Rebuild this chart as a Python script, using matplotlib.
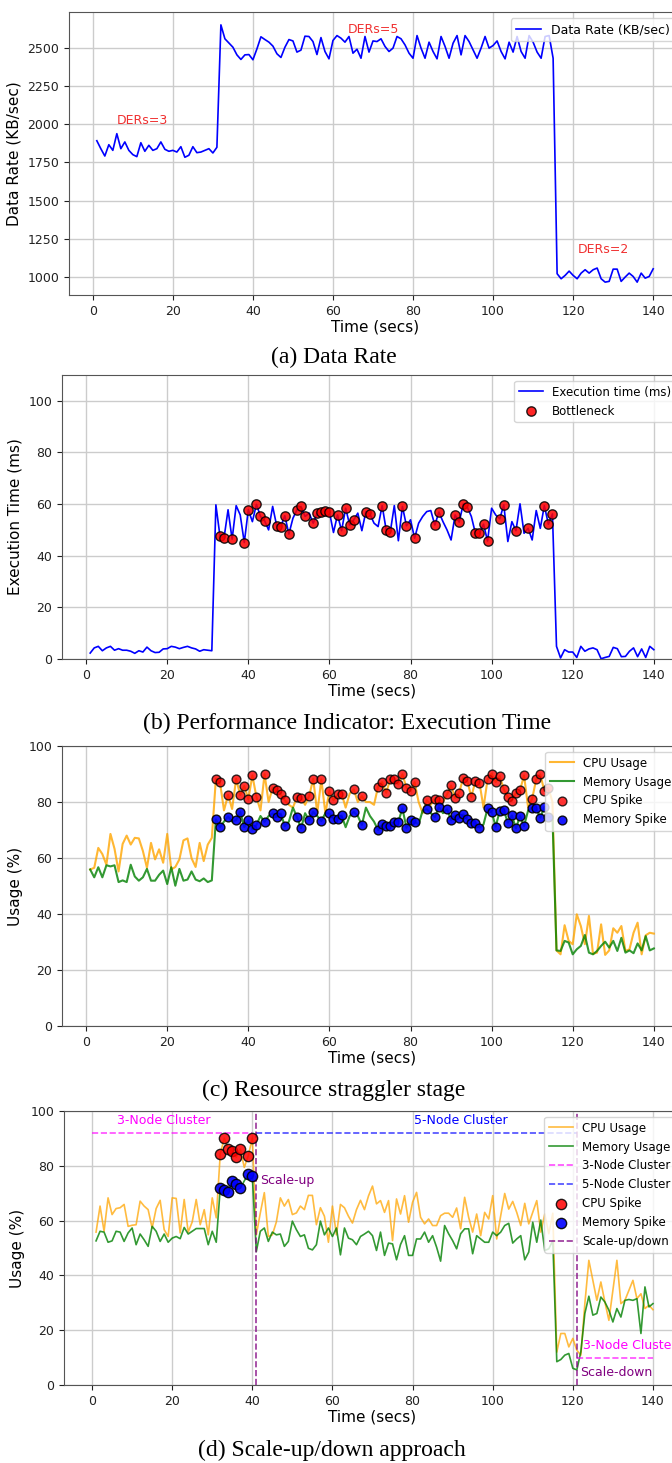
import numpy as np
import matplotlib
matplotlib.use("Agg")
import matplotlib.pyplot as plt

#%%
"""
### Data (read off the figure), time in secs from 1 to 140
"""
t = np.arange(1, 141)

data_rate = [1891, 1839, 1791, 1865, 1828, 1937, 1839, 1883, 1828, 1800,
             1787, 1878, 1822, 1861, 1828, 1839, 1883, 1835, 1822, 1828,
             1817, 1852, 1783, 1796, 1852, 1813, 1817, 1828, 1839, 1811,
             1848, 2648, 2557, 2530, 2502, 2452, 2422, 2452, 2454, 2420,
             2491, 2570, 2552, 2535, 2509, 2459, 2435, 2502, 2552, 2543,
             2470, 2483, 2574, 2572, 2539, 2454, 2565, 2474, 2426, 2546,
             2578, 2561, 2535, 2572, 2463, 2489, 2430, 2572, 2470, 2543,
             2539, 2557, 2507, 2474, 2496, 2572, 2557, 2517, 2463, 2430,
             2578, 2496, 2430, 2535, 2474, 2426, 2572, 2507, 2430, 2528,
             2578, 2452, 2578, 2539, 2485, 2430, 2496, 2572, 2496, 2513,
             2543, 2474, 2426, 2535, 2470, 2572, 2474, 2430, 2578, 2535,
             2470, 2430, 2572, 2578, 2430, 1022, 989, 1011, 1039, 1011,
             989, 1026, 1048, 1026, 1048, 1059, 989, 967, 972, 1052,
             1052, 972, 1000, 1026, 1004, 967, 1026, 993, 1004, 1054]

exec_time = [2.3, 4.3, 4.9, 3.2, 4.3, 4.9, 3.4, 4.0, 3.4, 3.4,
             3.0, 2.2, 3.2, 2.7, 4.6, 3.2, 2.5, 2.6, 3.9, 4.0,
             4.9, 4.6, 4.0, 4.5, 4.9, 4.3, 3.9, 3.0, 3.6, 3.4,
             3.2, 59.7, 47.7, 46.8, 57.8, 46.4, 59.4, 55.8, 45.1, 57.8,
             53.2, 59.9, 55.2, 53.6, 50.0, 59.1, 51.6, 51.3, 55.5, 48.4,
             54.5, 57.8, 59.1, 55.2, 56.5, 52.6, 56.5, 57.1, 57.5, 56.9,
             49.0, 55.8, 49.7, 58.4, 51.9, 53.9, 56.5, 49.7, 57.1, 56.1,
             52.6, 51.3, 59.4, 50.0, 49.1, 59.4, 45.8, 59.1, 51.6, 53.9,
             46.8, 52.6, 55.2, 57.1, 57.5, 51.9, 56.9, 53.2, 50.0, 46.1,
             55.8, 53.0, 60.0, 58.8, 55.2, 48.7, 48.7, 52.2, 45.7, 58.4,
             55.8, 54.3, 59.7, 45.5, 53.2, 49.7, 60.1, 48.7, 50.6, 46.1,
             57.5, 50.6, 59.4, 52.2, 56.2, 4.9, 0.4, 3.6, 2.7, 2.7,
             0.6, 4.9, 3.0, 3.9, 4.3, 3.6, 0.1, 0.6, 1.0, 4.5,
             4.0, 0.9, 1.0, 3.0, 4.3, 0.9, 3.9, 0.6, 4.9, 3.6]

bottleneck_t = [33, 34, 36, 39, 40, 42, 43, 44, 47, 48, 49, 50, 52, 53, 54,
                56, 57, 58, 59, 60, 62, 63, 64, 65, 66, 69, 70, 73, 74, 75,
                78, 79, 81, 86, 87, 91, 92, 93, 94, 96, 97, 98, 99, 102, 103,
                106, 109, 113, 114, 115]

# straggler stage (c)
cpu_c = [55.9, 56.5, 63.6, 61.4, 57.6, 68.6, 63.3, 55.2, 65.0, 68.0,
         64.8, 67.2, 67.0, 62.5, 56.5, 65.4, 59.5, 63.1, 58.3, 68.6,
         55.9, 56.8, 59.5, 66.3, 67.0, 59.9, 56.8, 65.4, 58.9, 64.8,
         67.2, 88.3, 87.1, 77.0, 82.5, 77.5, 88.3, 82.5, 85.7, 81.0,
         89.5, 81.8, 77.0, 89.9, 80.0, 85.1, 84.2, 82.7, 80.6, 79.0,
         78.0, 81.8, 81.5, 79.0, 82.1, 88.3, 76.0, 88.1, 76.0, 83.9,
         80.6, 82.7, 83.0, 78.0, 83.0, 84.5, 80.0, 82.1, 80.0, 80.0,
         79.0, 85.5, 87.1, 83.3, 88.1, 88.3, 86.3, 89.9, 85.1, 83.9,
         87.1, 80.0, 76.0, 80.6, 79.0, 81.2, 80.6, 80.0, 82.7, 85.9,
         81.5, 83.3, 88.7, 87.5, 81.8, 87.5, 86.9, 78.0, 88.1, 90.1,
         87.1, 89.3, 84.5, 81.8, 80.4, 83.3, 84.2, 89.5, 78.0, 81.2,
         88.1, 89.9, 83.9, 85.1, 80.0, 27.0, 25.6, 36.0, 30.4, 29.2,
         39.9, 35.7, 29.2, 39.3, 25.8, 26.2, 36.3, 25.4, 27.0, 34.9,
         33.3, 35.7, 26.8, 27.4, 33.3, 36.9, 25.6, 32.4, 33.3, 33.0]

mem_c = [55.9, 53.1, 56.7, 53.1, 57.4, 57.0, 57.4, 51.4, 52.0, 51.4,
         57.6, 53.4, 51.9, 53.1, 56.1, 51.9, 51.9, 54.0, 55.5, 50.7,
         56.7, 50.1, 56.1, 51.9, 52.3, 55.2, 52.3, 51.7, 52.7, 51.4,
         52.0, 73.8, 71.0, 73.0, 74.8, 73.0, 73.5, 76.5, 71.0, 73.5,
         70.2, 71.8, 75.0, 72.9, 75.0, 75.9, 74.6, 75.9, 71.4, 73.0,
         78.0, 74.6, 70.6, 76.0, 73.5, 76.5, 75.0, 73.2, 76.0, 75.9,
         74.0, 74.0, 75.2, 71.0, 75.0, 76.5, 75.0, 71.8, 78.0, 75.0,
         73.0, 70.0, 72.0, 71.4, 71.4, 73.0, 73.0, 77.7, 70.8, 73.5,
         73.0, 72.0, 77.0, 77.4, 76.0, 74.6, 78.2, 76.0, 77.4, 73.6,
         75.2, 74.4, 75.6, 73.8, 72.6, 72.6, 70.8, 72.0, 77.7, 76.5,
         71.2, 76.8, 77.0, 72.6, 75.2, 70.6, 75.0, 71.4, 77.0, 78.0,
         77.7, 74.4, 78.2, 74.6, 75.0, 27.0, 26.8, 30.4, 29.8, 25.6,
         27.4, 28.6, 32.5, 26.2, 25.6, 26.8, 28.6, 30.1, 28.0, 30.4,
         26.8, 31.5, 26.2, 27.0, 26.0, 29.5, 27.0, 32.1, 27.0, 27.7]

spike_c = [32, 33, 35, 37, 38, 39, 40, 41, 42, 44, 46, 47, 48, 49, 52, 53,
           55, 56, 58, 60, 61, 62, 63, 66, 68, 72, 73, 74, 75, 76, 77, 78,
           79, 80, 81, 84, 86, 87, 89, 90, 91, 92, 93, 94, 95, 96, 97, 99,
           100, 101, 102, 103, 104, 105, 106, 107, 108, 110, 111, 112, 113, 114]

# scale-up/down (d)
cpu_d = [55.8, 65.3, 56.1, 68.3, 62.2, 64.4, 64.7, 65.9, 57.9, 58.3,
         58.5, 67.1, 65.3, 64.0, 57.3, 64.4, 67.4, 56.7, 54.2, 68.3,
         68.1, 55.5, 67.7, 55.8, 59.5, 67.7, 58.5, 64.0, 54.8, 68.3,
         61.0, 84.3, 90.1, 86.1, 85.3, 83.1, 86.1, 79.4, 83.7, 90.1,
         54.8, 62.8, 70.2, 54.2, 54.8, 59.5, 68.3, 65.3, 67.7, 62.2,
         62.8, 65.3, 64.0, 69.2, 69.2, 58.5, 64.7, 61.6, 52.1, 65.3,
         54.8, 65.9, 64.7, 61.6, 59.1, 64.0, 67.4, 64.0, 69.0, 72.6,
         66.1, 67.3, 63.0, 67.3, 52.7, 67.9, 62.4, 69.1, 59.4, 66.7,
         70.3, 61.2, 58.8, 60.6, 58.2, 58.2, 61.8, 62.7, 62.7, 61.2,
         64.6, 57.0, 68.5, 61.2, 55.8, 62.4, 54.5, 63.0, 60.6, 69.1,
         53.3, 61.8, 69.9, 64.2, 67.0, 63.0, 58.2, 66.3, 58.8, 63.0,
         67.3, 55.8, 62.4, 55.2, 62.7, 12.0, 18.8, 18.8, 13.9, 17.0,
         12.7, 10.9, 29.7, 45.5, 38.2, 30.9, 37.6, 30.3, 23.6, 34.5,
         45.5, 29.7, 30.9, 34.5, 38.2, 31.5, 33.3, 27.9, 29.1, 27.5]

mem_d = [52.6, 56.1, 55.8, 52.1, 52.6, 56.1, 55.8, 52.4, 55.5, 57.3,
         51.2, 55.1, 53.0, 50.6, 57.9, 56.1, 52.4, 55.1, 52.1, 53.6,
         54.2, 53.4, 57.5, 55.1, 56.1, 57.1, 57.1, 57.1, 51.2, 56.1,
         52.1, 71.8, 71.2, 70.6, 74.5, 73.3, 71.8, 74.5, 76.9, 76.3,
         48.7, 56.1, 57.3, 52.4, 55.8, 54.8, 55.1, 50.6, 52.4, 59.8,
         56.7, 54.2, 54.8, 49.9, 49.3, 51.2, 59.8, 54.8, 57.3, 54.2,
         57.3, 47.5, 57.3, 53.6, 53.0, 51.2, 54.2, 55.1, 56.1, 54.5,
         49.1, 55.8, 47.3, 51.8, 51.5, 45.7, 51.3, 54.5, 47.3, 47.3,
         53.3, 53.3, 55.8, 52.1, 54.5, 50.3, 45.2, 58.2, 55.2, 52.7,
         49.7, 55.2, 57.0, 57.0, 47.9, 54.5, 53.3, 52.1, 52.1, 55.8,
         54.5, 55.8, 58.2, 59.0, 51.8, 53.3, 54.5, 45.7, 48.5, 59.4,
         52.1, 60.2, 49.1, 49.7, 52.7, 8.5, 9.3, 10.9, 11.5, 6.1,
         5.5, 12.1, 26.1, 32.4, 25.5, 26.1, 32.1, 30.3, 27.3, 23.0,
         27.9, 24.8, 30.9, 31.2, 30.9, 31.5, 18.8, 35.8, 28.5, 29.7]

spike_d = [32, 33, 34, 35, 36, 37, 39, 40]

# cluster phases (d)
scale_up_t = 41
scale_down_t = 121

#%%
"""
### Figure layout: 4 stacked panels with captions
"""
W, H = 672, 1463
fig = plt.figure(figsize=(W / 100, H / 100), dpi=100)

def add_ax(left, top, right, bottom):
    return fig.add_axes([left / W, 1 - bottom / H, (right - left) / W, (bottom - top) / H])

def style(ax, ylabel):
    ax.grid(True, color='#cccccc', linewidth=1.0)
    ax.set_axisbelow(True)
    ax.tick_params(labelsize=9, colors='#222222')
    for s in ax.spines.values():
        s.set_color('#555555')
    ax.set_xlabel('Time (secs)', fontsize=11, labelpad=1)
    ax.set_ylabel(ylabel, fontsize=11)

def caption(x, y, txt):
    fig.text(x / W, 1 - y / H, txt, ha='center', va='center',
             family='Liberation Serif', fontsize=17)

t_arr = np.array(t)

#%% (a) data rate
ax1 = add_ax(69, 12, 681, 295)
ax1.plot(t, data_rate, color='blue', lw=1.2, label='Data Rate (KB/sec)')
ax1.text(12.5, 2020, 'DERs=3', color='#f03030', fontsize=9, ha='center', va='center')
ax1.text(70, 2620, 'DERs=5', color='#f03030', fontsize=9, ha='center', va='center')
ax1.text(127.5, 1178, 'DERs=2', color='#f03030', fontsize=9, ha='center', va='center')
ax1.set_yticks([1000, 1250, 1500, 1750, 2000, 2250, 2500])
style(ax1, 'Data Rate (KB/sec)')
ax1.legend(loc='upper right', fontsize=9)
caption(334, 357, '(a) Data Rate')

#%% (b) execution time
ax2 = add_ax(62, 375, 682, 659)
ax2.plot(t, exec_time, color='blue', lw=1.2, label='Execution time (ms)')
idx_b = np.array(bottleneck_t) - 1
ax2.scatter(t_arr[idx_b], np.array(exec_time)[idx_b], color='red', edgecolor='black',
            s=45, alpha=0.85, zorder=3, label='Bottleneck')
ax2.set_ylim(0, 110)
style(ax2, 'Execution Time (ms)')
ax2.legend(loc='upper right', fontsize=8.5)
caption(347, 723, '(b) Performance Indicator: Execution Time')

#%% (c) resource straggler
ax3 = add_ax(62, 746, 682, 1026)
ax3.plot(t, cpu_c, color='orange', alpha=0.8, lw=1.5, label='CPU Usage')
ax3.plot(t, mem_c, color='green', alpha=0.8, lw=1.5, label='Memory Usage')
idx_c = np.array(spike_c) - 1
ax3.scatter(t_arr[idx_c], np.array(cpu_c)[idx_c], color='red', edgecolor='black',
            s=40, alpha=0.8, zorder=3, label='CPU Spike')
ax3.scatter(t_arr[idx_c], np.array(mem_c)[idx_c], color='blue', edgecolor='black',
            s=40, alpha=0.9, zorder=3, label='Memory Spike')
ax3.set_ylim(0, 100)
style(ax3, 'Usage (%)')
ax3.legend(loc='upper right', fontsize=8.5)
caption(334, 1090, '(c) Resource straggler stage')

#%% (d) scale-up/down
ax4 = add_ax(64, 1111, 681, 1385)
ax4.plot(t, cpu_d, color='orange', alpha=0.75, lw=1.2, label='CPU Usage')
ax4.plot(t, mem_d, color='green', alpha=0.8, lw=1.2, label='Memory Usage')
ax4.hlines(92, 0, scale_up_t - 1, colors='magenta', linestyles='--', lw=1.2, alpha=0.7,
           label='3-Node Cluster')
ax4.hlines(92, scale_up_t, scale_down_t, colors='blue', linestyles='--', lw=1.2, alpha=0.7,
           label='5-Node Cluster')
ax4.hlines(10, scale_down_t, 140, colors='magenta', linestyles='--', lw=1.2, alpha=0.7)
idx_d = np.array(spike_d) - 1
ax4.scatter(t_arr[idx_d], np.array(cpu_d)[idx_d], color='red', edgecolor='black',
            s=55, alpha=0.85, zorder=3, label='CPU Spike')
ax4.scatter(t_arr[idx_d], np.array(mem_d)[idx_d], color='blue', edgecolor='black',
            s=55, alpha=0.9, zorder=3, label='Memory Spike')
ax4.axvline(scale_up_t, color='purple', linestyle='--', lw=1.2, alpha=0.8, label='Scale-up/down')
ax4.axvline(scale_down_t, color='purple', linestyle='--', lw=1.2, alpha=0.8)
ax4.text(18, 96.5, '3-Node Cluster', color='magenta', fontsize=9, ha='center', va='center')
ax4.text(92, 96.5, '5-Node Cluster', color='blue', fontsize=9, ha='center', va='center')
ax4.text(42, 74.5, 'Scale-up', color='purple', fontsize=9, ha='left', va='center')
ax4.text(122.5, 14.5, '3-Node Cluster', color='magenta', fontsize=9, ha='left', va='center')
ax4.text(121.8, 4.5, 'Scale-down', color='purple', fontsize=9, ha='left', va='center')
ax4.set_ylim(0, 100)
style(ax4, 'Usage (%)')
ax4.legend(loc='upper right', fontsize=8.5)
caption(332, 1450, '(d) Scale-up/down approach')

plt.savefig('out.png', dpi=100)
